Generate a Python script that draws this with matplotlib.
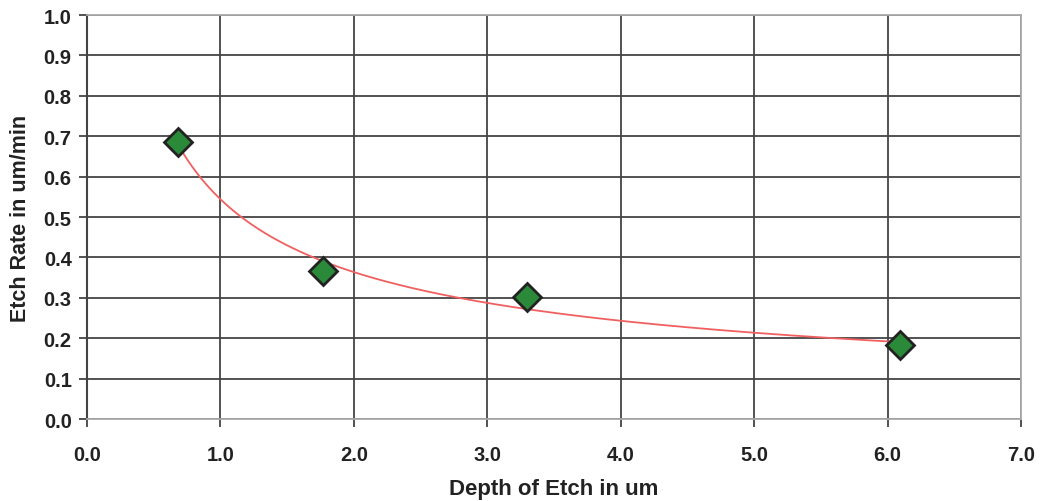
import numpy as np
import matplotlib.pyplot as plt

depth = [0.68, 1.77, 3.30, 6.09]
rate = [0.686, 0.366, 0.301, 0.182]
x_ticks = [0.0, 1.0, 2.0, 3.0, 4.0, 5.0, 6.0, 7.0]
y_ticks = [0.0, 0.1, 0.2, 0.3, 0.4, 0.5, 0.6, 0.7, 0.8, 0.9, 1.0]

plt.rcParams['font.family'] = ['Liberation Sans', 'DejaVu Sans']

fig = plt.figure(figsize=(10.41, 5.02), dpi=100)
ax = fig.add_axes([87 / 1041, 1 - 420 / 502, (1021 - 87) / 1041, (420 - 16) / 502])

# power trendline fitted from the points
b, ln_a = np.polyfit(np.log(depth), np.log(rate), 1)
xf = np.linspace(min(depth), max(depth), 200)
ax.plot(xf, np.exp(ln_a) * xf ** b, color='#f06060', lw=1.3, zorder=3)

ax.plot(depth, rate, linestyle='none', marker='D', markersize=14,
        markerfacecolor='#2a8a3a', markeredgecolor='#222222',
        markeredgewidth=2, zorder=4)

ax.set_xlim(0, 7)
ax.set_ylim(0, 1)
ax.set_xticks(x_ticks)
ax.set_yticks(y_ticks)
ax.set_xticklabels([f'{v:.1f}' for v in x_ticks])
ax.set_yticklabels([f'{v:.1f}' for v in y_ticks])
ax.grid(True, color='#444444', lw=1.3)
ax.set_axisbelow(True)
ax.tick_params(direction='out', length=6, width=1.3, color='#444444',
               labelsize=14.5)
ax.tick_params(axis='x', pad=13)
ax.tick_params(axis='y', pad=5)
for lab in ax.get_xticklabels() + ax.get_yticklabels():
    lab.set_fontweight('bold')
    lab.set_color('#222222')

ax.spines['left'].set_color('#444444')
ax.spines['left'].set_linewidth(1.5)
for s in ['top', 'right', 'bottom']:
    ax.spines[s].set_color('#aaaaaa')
    ax.spines[s].set_linewidth(1.3)

ax.set_xlabel('Depth of Etch in um', fontsize=16, fontweight='bold',
              color='#222222', labelpad=10)
ax.set_ylabel('Etch Rate in um/min', fontsize=15.5, fontweight='bold',
              color='#222222', labelpad=9)

fig.savefig('out.png', dpi=100)
